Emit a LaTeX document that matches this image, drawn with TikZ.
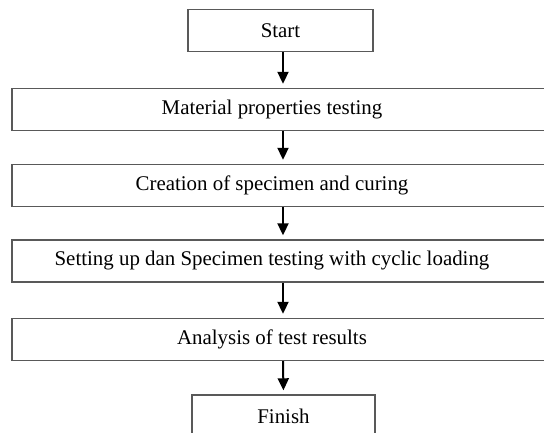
\documentclass[tikz,border=0pt]{standalone}
\usepackage{fontspec}
\setmainfont{Liberation Serif}
\usetikzlibrary{arrows.meta}
\begin{document}
\begin{tikzpicture}[x=1pt,y=-1pt,
  stepbox/.style={draw=black!65, line width=1.4pt, fill=white, inner sep=0pt, minimum height=42pt},
  smallbox/.style={stepbox, minimum width=185pt},
  widebox/.style={stepbox, minimum width=542pt},
  lbl/.style={font=\fontsize{20.9}{24}\selectfont, inner sep=0pt},
  flow/.style={draw=black, line width=2pt, -{Triangle[width=11pt,length=12pt]}, shorten >=4pt}]
\useasboundingbox (0,0) rectangle (544,433);
\clip (0,0) rectangle (544,433);
\node[smallbox] (start) at (280.5,30.8) {};
\node[lbl] at (start.center) {Start};
\node[widebox] (b2) at (283,109.5) {};
\node[lbl] at ([xshift=-11pt]b2.center) {Material properties testing};
\node[widebox] (b3) at (283,185.5) {};
\node[lbl] at ([xshift=-11pt]b3.center) {Creation of specimen and curing};
\node[widebox] (b4) at (283,261) {};
\node[lbl] at ([xshift=-11pt]b4.center) {Setting up dan Specimen testing with cyclic loading};
\node[widebox] (b5) at (283,339.5) {};
\node[lbl] at ([xshift=-11pt]b5.center) {Analysis of test results};
\node[smallbox, minimum width=183pt] (fin) at (283.5,416) {};
\node[lbl] at (fin.center) {Finish};
\draw[flow] (start.south -| b2.north) -- (b2.north);
\draw[flow] (b2.south) -- (b3.north);
\draw[flow] (b3.south) -- (b4.north);
\draw[flow] (b4.south) -- (b5.north);
\draw[flow] (b5.south) -- (fin.north);
\end{tikzpicture}
\end{document}
